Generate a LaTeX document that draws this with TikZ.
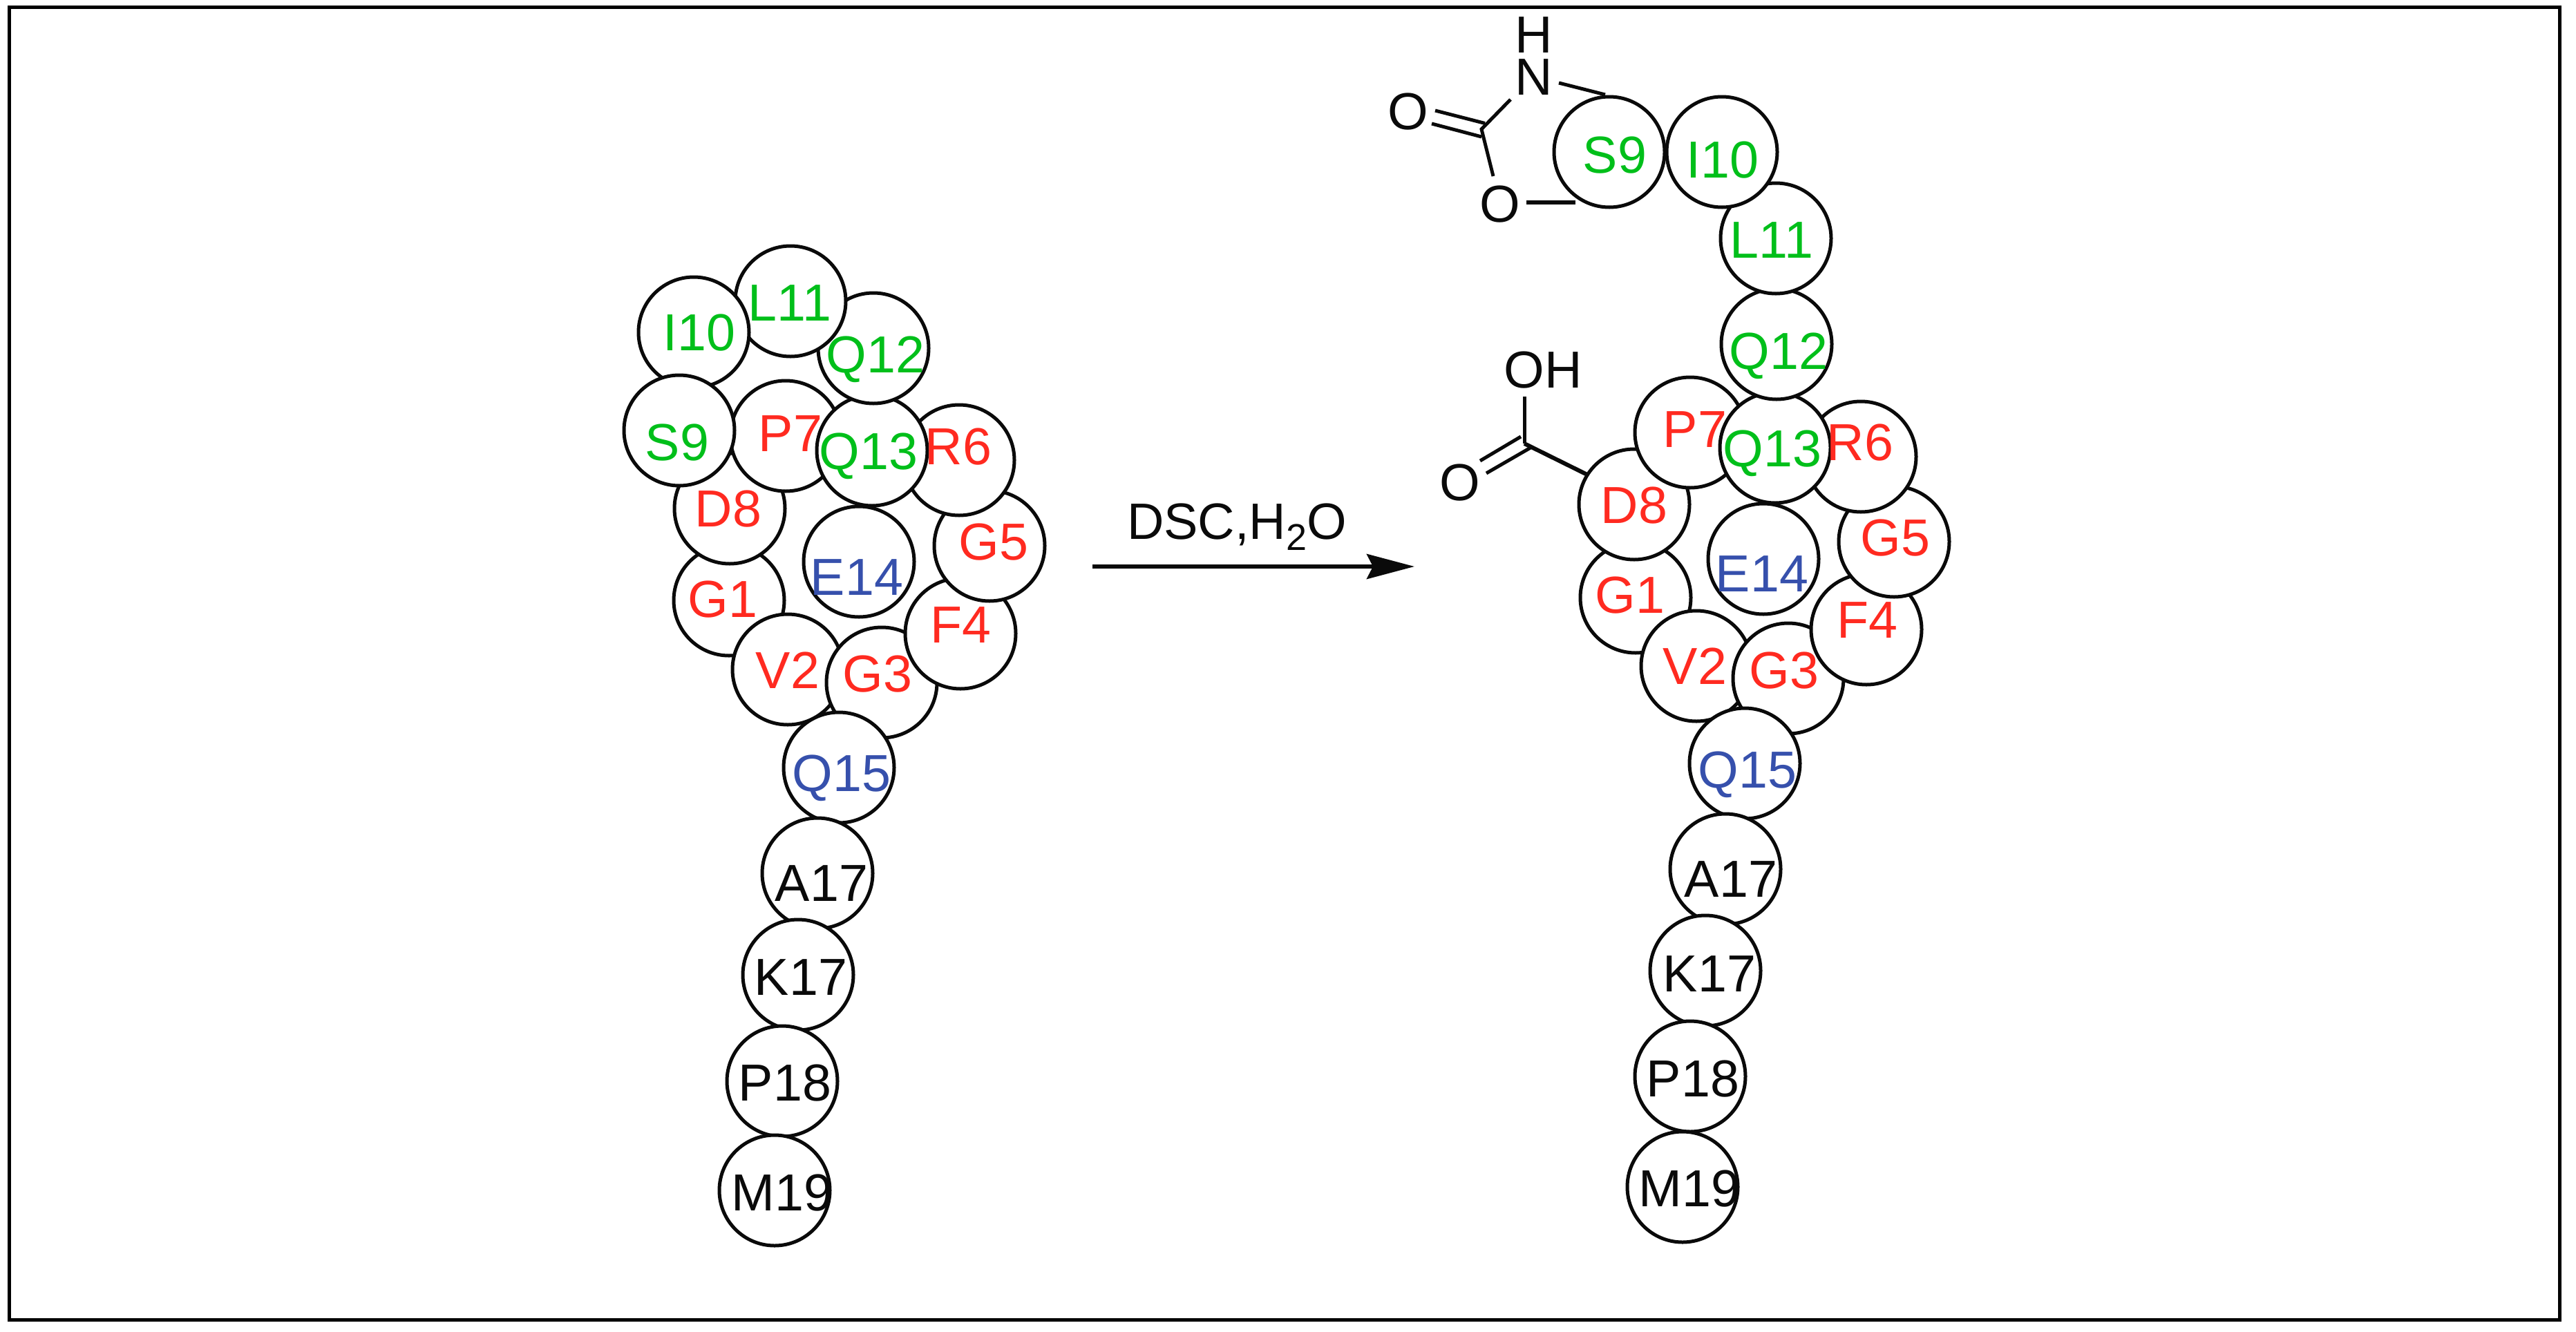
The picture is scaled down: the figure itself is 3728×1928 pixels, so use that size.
\documentclass[tikz,border=0pt]{standalone}
\usepackage{fontspec}
\setmainfont{Liberation Sans}
\usetikzlibrary{arrows.meta}
\definecolor{rsink}{HTML}{0A0A0A}
\definecolor{rsred}{HTML}{FF2A20}
\definecolor{rsgreen}{HTML}{00BF1A}
\definecolor{rsblue}{HTML}{3650AC}
\tikzset{
  x=0.5pt,y=-0.5pt,
  residue/.style={circle,draw=rsink,fill=white,line width=2.5pt,inner sep=0pt,outer sep=0pt,minimum size=80pt},
  txt/.style={inner sep=0pt,outer sep=0pt,anchor=base,font=\fontsize{37.7}{38}\selectfont},
  redt/.style={txt,text=rsred},
  greent/.style={txt,text=rsgreen},
  bluet/.style={txt,text=rsblue},
  inkt/.style={txt,text=rsink},
  bond/.style={draw=rsink,line width=2.5pt},
  thickbond/.style={draw=rsink,line width=3pt},
}
\begin{document}
\begin{tikzpicture}
\useasboundingbox[fill=white] (0,0) rectangle (3728,1928);
\draw[black,line width=2.5pt] (13.5,10.5) rectangle (3704,1910);

% left peptide, lowest first
\node[residue] (lG1) at (1055,869) {};
\node[residue] (lV2) at (1140,969) {};
\node[residue] (lG3) at (1276,988) {};
\node[residue] (lF4) at (1390,917) {};
\node[residue] (lG5) at (1432,790) {};
\node[residue] (lR6) at (1388,666) {};
\node[residue] (lD8) at (1056,736) {};
\node[residue] (lP7) at (1137,631) {};
\node[residue] (lQ13) at (1262,652) {};
\node[residue] (lQ12) at (1264,504) {};
\node[residue] (lL11) at (1144,436) {};
\node[residue] (lI10) at (1004,481) {};
\node[residue] (lS9) at (983,623) {};
\node[residue] (lE14) at (1243,813) {};
\node[residue] (lQ15) at (1214,1111) {};
\node[residue] (lA17) at (1183,1264) {};
\node[residue] (lK17) at (1155,1411) {};
\node[residue] (lP18) at (1132,1565) {};
\node[residue] (lM19) at (1121,1723) {};

% right peptide, lowest first
\node[residue] (rG1) at (2367,865) {};
\node[residue] (rV2) at (2455,964) {};
\node[residue] (rG3) at (2588,982) {};
\node[residue] (rF4) at (2701,911) {};
\node[residue] (rG5) at (2741,784) {};
\node[residue] (rR6) at (2693,661) {};
\node[residue] (rD8) at (2365,730) {};
\node[residue] (rP7) at (2446,626) {};
\node[residue] (rQ13) at (2569,648) {};
\node[residue] (rQ12) at (2571,498) {};
\node[residue] (rL11) at (2570,345) {};
\node[residue] (rI10) at (2492,220) {};
\node[residue] (rS9) at (2329,220) {};
\node[residue] (rE14) at (2552,809) {};
\node[residue] (rQ15) at (2525,1105) {};
\node[residue] (rA17) at (2497,1258) {};
\node[residue] (rK17) at (2468,1405) {};
\node[residue] (rP18) at (2446,1558) {};
\node[residue] (rM19) at (2435,1718) {};

% left labels
\node[redt] (tlG1) at (1046,893) {G1};
\node[redt] (tlV2) at (1140,996) {V2};
\node[redt] (tlG3) at (1270,1001) {G3};
\node[redt] (tlF4) at (1390,930) {F4};
\node[redt] (tlG5) at (1438,810) {G5};
\node[redt] (tlR6) at (1387,672) {R6};
\node[redt] (tlP7) at (1144,653) {P7};
\node[redt] (tlD8) at (1054,762) {D8};
\node[greent] (tlS9) at (980,666) {S9};
\node[greent] (tlI10) at (1012,507) {I10};
\node[greent] (tlL11) at (1143,464) {L11};
\node[greent] (tlQ12) at (1267,539) {Q12};
\node[greent] (tlQ13) at (1257,679) {Q13};
\node[bluet] (tlE14) at (1240,861) {E14};
\node[bluet] (tlQ15) at (1218,1145) {Q15};
\node[inkt] (tlA17) at (1189,1304) {A17};
\node[inkt] (tlK17) at (1159,1440) {K17};
\node[inkt] (tlP18) at (1136,1593) {P18};
\node[inkt] (tlM19) at (1132,1752) {M19};

% right labels
\node[redt] (trG1) at (2359,887) {G1};
\node[redt] (trV2) at (2453,990) {V2};
\node[redt] (trG3) at (2582,996) {G3};
\node[redt] (trF4) at (2702,923) {F4};
\node[redt] (trG5) at (2743,804) {G5};
\node[redt] (trR6) at (2692,666) {R6};
\node[redt] (trP7) at (2453,647) {P7};
\node[redt] (trD8) at (2365,757) {D8};
\node[greent] (trS9) at (2337,250) {S9};
\node[greent] (trI10) at (2493,257) {I10};
\node[greent] (trL11) at (2564,373) {L11};
\node[greent] (trQ12) at (2574,534) {Q12};
\node[greent] (trQ13) at (2565,675) {Q13};
\node[bluet] (trE14) at (2550,856) {E14};
\node[bluet] (trQ15) at (2529,1140) {Q15};
\node[inkt] (trA17) at (2505,1298) {A17};
\node[inkt] (trK17) at (2474,1435) {K17};
\node[inkt] (trP18) at (2450,1587) {P18};
\node[inkt] (trM19) at (2445,1746) {M19};

% reaction arrow
\coordinate (arrowstart) at (1581,820);
\coordinate (arrowend) at (2047,820);
\draw[rsink,line width=3pt,-{Stealth[length=34.5pt,width=18pt,inset=4.5pt]}] (arrowstart) -- (arrowend);
\node[inkt,anchor=base west,font=\fontsize{37}{37}\selectfont] (reagent) at (1631,780) {DSC,H\raisebox{-8pt}{\fontsize{27}{27}\selectfont 2}O};

% oxazolidinone on S9
\node[inkt] (atomH) at (2220,76) {H};
\node[inkt] (atomN) at (2220,137) {N};
\node[inkt] (atomOa) at (2038,187) {O};
\node[inkt] (atomOb) at (2171,321) {O};
\coordinate (ringC) at (2144,187);
\coordinate (nb) at (2256,120);
\coordinate (ns) at (2323,137);
\coordinate (nc) at (2186,144);
\coordinate (oaA) at (2077,160);
\coordinate (oaB) at (2149,178.5);
\coordinate (obA) at (2072,179);
\coordinate (obB) at (2144,198);
\coordinate (cob) at (2161,255);
\coordinate (ob) at (2209,293);
\coordinate (os) at (2280,293);
\draw[bond] (nb) -- (ns);
\draw[bond] (nc) -- (ringC) -- (cob);
\draw[bond] (oaA) -- (oaB);
\draw[bond] (obA) -- (obB);
\draw[thickbond] (ob) -- (os);

% carboxyl on D8
\node[inkt] (atomOH) at (2233,561) {OH};
\node[inkt] (atomOc) at (2113,724) {O};
\coordinate (acidC) at (2206,642);
\coordinate (acidOH) at (2206,574);
\coordinate (acidD) at (2297,687);
\coordinate (dbA) at (2201,632);
\coordinate (dbB) at (2142,667);
\coordinate (dcA) at (2215,648);
\coordinate (dcB) at (2151,685);
\draw[bond] (acidOH) -- (acidC);
\draw[thickbond] (acidC) -- (acidD);
\draw[bond] (dbA) -- (dbB);
\draw[bond] (dcA) -- (dcB);
\end{tikzpicture}
\end{document}
